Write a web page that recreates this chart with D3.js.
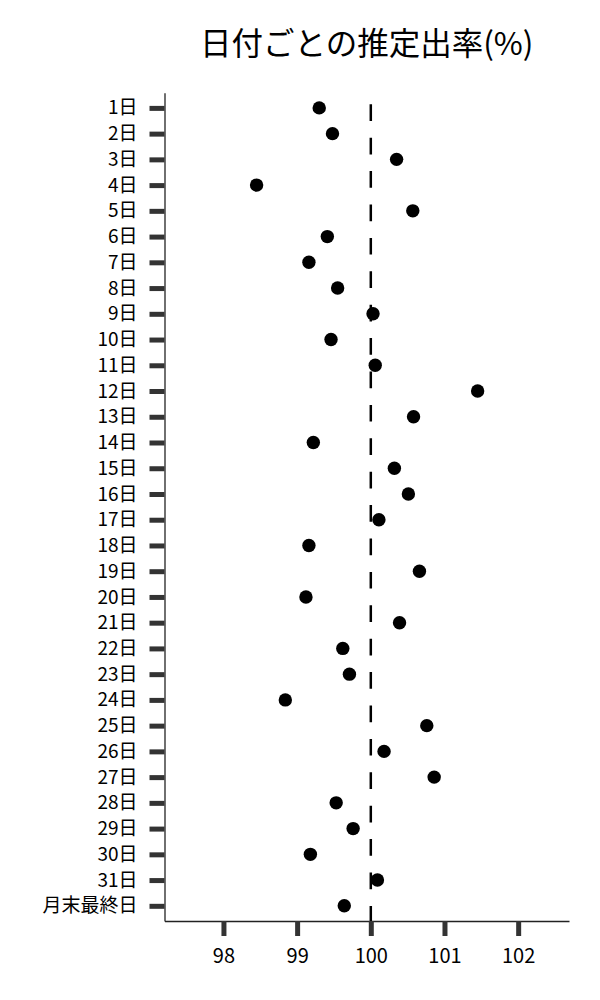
<!DOCTYPE html>
<html>
<head>
<meta charset="utf-8">
<script src="https://cdn.jsdelivr.net/npm/d3@7"></script>
<style>
  body { margin: 0; background: #fff; }
  svg text { font-family: "Noto Sans CJK JP", "Noto Sans", sans-serif; }
</style>
</head>
<body>
<div id="chart"></div>
<script>
const title = "日付ごとの推定出率(%)";

const days = [
  "1日", "2日", "3日", "4日", "5日", "6日", "7日", "8日", "9日", "10日",
  "11日", "12日", "13日", "14日", "15日", "16日", "17日", "18日", "19日", "20日",
  "21日", "22日", "23日", "24日", "25日", "26日", "27日", "28日", "29日", "30日",
  "31日", "月末最終日"
];

const rates = [
  99.30, 99.48, 100.35, 98.45, 100.57, 99.41, 99.16, 99.55, 100.03, 99.46,
  100.06, 101.45, 100.58, 99.22, 100.32, 100.51, 100.11, 99.16, 100.66, 99.12,
  100.39, 99.62, 99.71, 98.84, 100.76, 100.18, 100.86, 99.53, 99.76, 99.18,
  100.09, 99.64
];

const xTicks = [98, 99, 100, 101, 102];
const refValue = 100;

const dimensions = { width: 600, height: 1000 };
const margin = { top: 92.7, right: 31, bottom: 79, left: 164.5 };

const svg = d3
  .select("#chart")
  .append("svg")
  .attr("width", dimensions.width)
  .attr("height", dimensions.height);

const x = d3
  .scaleLinear()
  .domain([97.2, 102.69])
  .range([margin.left, dimensions.width - margin.right]);

const y = d3
  .scalePoint()
  .domain(days)
  .range([margin.top, dimensions.height - margin.bottom])
  .padding(0.59);

// title, centred over the plot area
svg
  .append("text")
  .attr("x", (margin.left + dimensions.width - margin.right) / 2)
  .attr("y", 55)
  .attr("text-anchor", "middle")
  .attr("font-size", 31.5)
  .attr("fill", "#000")
  .text(title);

// y axis
const yAxis = svg
  .append("g")
  .attr("transform", `translate(${margin.left},0)`)
  .call(d3.axisLeft(y).tickSize(15).tickSizeOuter(0).tickPadding(12));

// x axis
const xAxis = svg
  .append("g")
  .attr("transform", `translate(0,${dimensions.height - margin.bottom})`)
  .call(
    d3.axisBottom(x)
      .tickValues(xTicks)
      .tickFormat(d3.format("d"))
      .tickSize(15)
      .tickSizeOuter(0)
      .tickPadding(13)
  );

[yAxis, xAxis].forEach((g) => {
  g.select(".domain").attr("stroke", "#222").attr("stroke-width", 1.3);
  g.selectAll(".tick line").attr("stroke", "#333").attr("stroke-width", 5);
  g.selectAll(".tick text").attr("fill", "#000");
});
yAxis.selectAll(".tick text").attr("font-size", 19);
xAxis.selectAll(".tick text").attr("font-size", 20);

// reference line at 100
svg
  .append("line")
  .attr("x1", x(refValue))
  .attr("x2", x(refValue))
  .attr("y1", 104.3)
  .attr("y2", dimensions.height - margin.bottom)
  .attr("stroke", "#000")
  .attr("stroke-width", 2.5)
  .attr("stroke-dasharray", "16.7,16.7");

// points
svg
  .append("g")
  .selectAll("circle")
  .data(days.map((d, i) => ({ day: d, value: rates[i] })))
  .join("circle")
  .attr("cx", (d) => x(d.value))
  .attr("cy", (d) => y(d.day))
  .attr("r", 6.7)
  .attr("fill", "#000");
</script>
</body>
</html>
